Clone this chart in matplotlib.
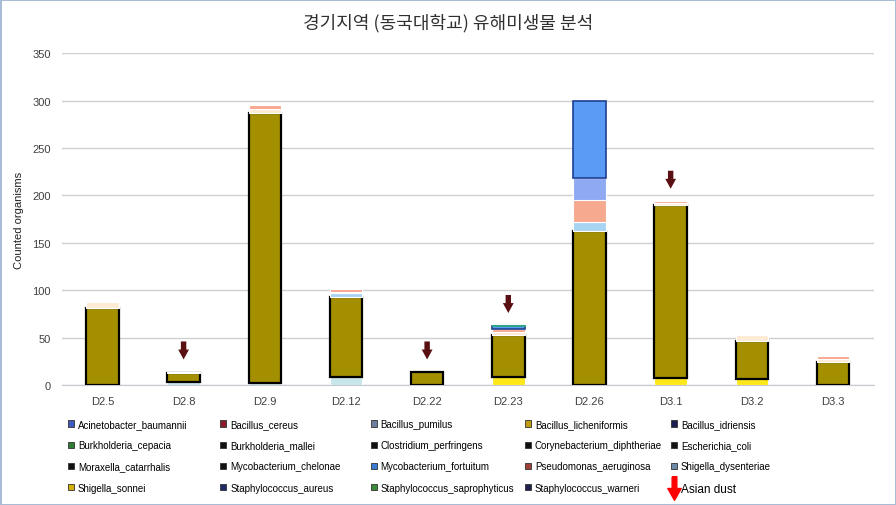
import matplotlib
matplotlib.use('Agg')
import matplotlib.pyplot as plt
import numpy as np
from matplotlib import font_manager
from matplotlib.patches import Patch
from matplotlib.lines import Line2D
from matplotlib.path import Path

installed = {f.name for f in font_manager.fontManager.ttflist}
narrow = 'Liberation Sans Narrow' if 'Liberation Sans Narrow' in installed else 'Liberation Sans'
plt.rcParams['font.family'] = [narrow, 'DejaVu Sans']

sites = ['D2.5', 'D2.8', 'D2.9', 'D2.12', 'D2.22', 'D2.23', 'D2.26', 'D3.1', 'D3.2', 'D3.3']
asian_dust = ['D2.8', 'D2.22', 'D2.23', 'D3.1']

# counts per species (stack order bottom -> top)
shigella_sonnei = [0, 0, 0, 0, 0, 8, 0, 7, 6, 0]
bacillus_pumilus = [0, 3, 2, 8, 0, 0, 0, 0, 0, 0]
staph_aureus = [0, 0, 0, 0, 0, 1, 0, 0, 0, 0]
bacillus_licheniformis = [81, 10, 285, 85, 14, 44, 162, 183, 40, 24]
acinetobacter = [0, 0, 0, 4, 0, 0, 10, 0, 0, 0]
bacillus_cereus = [7, 1, 4, 1, 0, 3, 0, 2, 7, 4]
pseudomonas = [0, 0, 4, 3, 0, 3, 23, 2, 0, 3]
shigella_dysenteriae = [0, 0, 0, 0, 0, 0, 23, 0, 0, 0]
myco_fortuitum = [0, 0, 0, 0, 0, 3, 82, 0, 0, 0]
staph_sapro = [0, 0, 0, 0, 0, 1, 0, 0, 0, 0]

stack = [
    (shigella_sonnei, '#FFE81A', 'white', 0.8),
    (bacillus_pumilus, '#C6E6EA', 'white', 0.8),
    (staph_aureus, '#1F2A8A', '#1F2A8A', 0.8),
    (bacillus_licheniformis, '#A38F00', 'black', 1.6),
    (acinetobacter, '#A8D4F2', 'white', 0.8),
    (bacillus_cereus, '#FDEBD3', 'white', 0.8),
    (pseudomonas, '#F7A98F', 'white', 0.8),
    (shigella_dysenteriae, '#8FAAF2', 'white', 0.8),
    (myco_fortuitum, '#5B9BF5', '#1F3F8F', 1.2),
    (staph_sapro, '#2EA58A', '#2EA58A', 0.8),
]

legend_names = ['Acinetobacter_baumannii', 'Bacillus_cereus', 'Bacillus_pumilus', 'Bacillus_licheniformis', 'Bacillus_idriensis',
                'Burkholderia_cepacia', 'Burkholderia_mallei', 'Clostridium_perfringens', 'Corynebacterium_diphtheriae', 'Escherichia_coli',
                'Moraxella_catarrhalis', 'Mycobacterium_chelonae', 'Mycobacterium_fortuitum', 'Pseudomonas_aeruginosa', 'Shigella_dysenteriae',
                'Shigella_sonnei', 'Staphylococcus_aureus', 'Staphylococcus_saprophyticus', 'Staphylococcus_warneri']
legend_colors = ['#3C5DBF', '#8B1A2A', '#6E7FA0', '#C09A10', '#1C1F50',
                 '#2E7D32', '#111111', '#111111', '#111111', '#151515',
                 '#111111', '#111111', '#3A7BD5', '#A0403A', '#6F8AA8',
                 '#D4B000', '#1F2A6B', '#3A8A3A', '#202050']

fig = plt.figure(figsize=(8.96, 5.06), dpi=100)
fig.patch.set_edgecolor('#A9BCD5')
fig.patch.set_linewidth(2)
ax = fig.add_axes([0.069, 0.237, 0.906, 0.656])

x = np.arange(len(sites))
bottom = np.zeros(len(sites))
for vals, fc, ec, lw in stack:
    v = np.array(vals, dtype=float)
    ax.bar(x, v, width=0.4, bottom=bottom, color=fc, edgecolor=ec,
           linewidth=[lw if a > 0 else 0 for a in v], zorder=3)
    bottom += v

# Asian dust arrows
for s in asian_dust:
    i = sites.index(s)
    ax.annotate('', xy=(i, bottom[i] + 13), xytext=(i, bottom[i] + 32),
                arrowprops=dict(arrowstyle='simple,head_width=0.6,head_length=0.55,tail_width=0.3',
                                mutation_scale=13, color='#5A0F12', lw=0,
                                shrinkA=0, shrinkB=0), zorder=4)

ax.set_xlim(-0.5, len(sites) - 0.5)
ax.set_ylim(0, 350)
ax.set_yticks(np.arange(0, 351, 50))
ax.set_xticks(x)
ax.set_xticklabels(sites)
ax.tick_params(length=0, labelsize=8, colors='#404040', pad=8)
ax.grid(axis='y', color='#D0D0D0', linewidth=1, zorder=0)
for sp in ['top', 'right', 'left']:
    ax.spines[sp].set_visible(False)
ax.spines['bottom'].set_color('#C8C8D0')
ax.set_ylabel('Counted organisms', fontsize=8, color='#202020', labelpad=6)

fig.text(0.5, 0.955, '경기지역 (동국대학교) 유해미생물 분석', ha='center', va='center',
         fontsize=13, family=['Noto Sans CJK KR', 'DejaVu Sans'], color='#303030')

# legend, 5 columns laid out row by row
arrow_marker = Path([(-0.12, 0.6), (0.12, 0.6), (0.12, 0.0), (0.34, 0.0), (0.0, -0.6),
                     (-0.34, 0.0), (-0.12, 0.0), (-0.12, 0.6)])
handles = [Patch(facecolor=c, edgecolor='#303030', linewidth=0.6) for c in legend_colors]
labels = list(legend_names)
handles.append(Line2D([], [], marker=arrow_marker, color='red', linestyle='none', markersize=17))
labels.append('Asian dust')

col_x = [0.076, 0.246, 0.414, 0.586, 0.749]
for c in range(5):
    leg = fig.legend(handles[c::5], labels[c::5], loc='upper left', bbox_to_anchor=(col_x[c], 0.17),
                     frameon=False, fontsize=7, handlelength=0.6, handleheight=0.6,
                     handletextpad=0.4, labelspacing=1.15, borderaxespad=0, borderpad=0)
    for t, lab in zip(leg.get_texts(), labels[c::5]):
        if lab == 'Asian dust':
            t.set_family(['Liberation Sans', 'DejaVu Sans'])
            t.set_fontsize(8.5)

fig.savefig('out.png', dpi=100)
